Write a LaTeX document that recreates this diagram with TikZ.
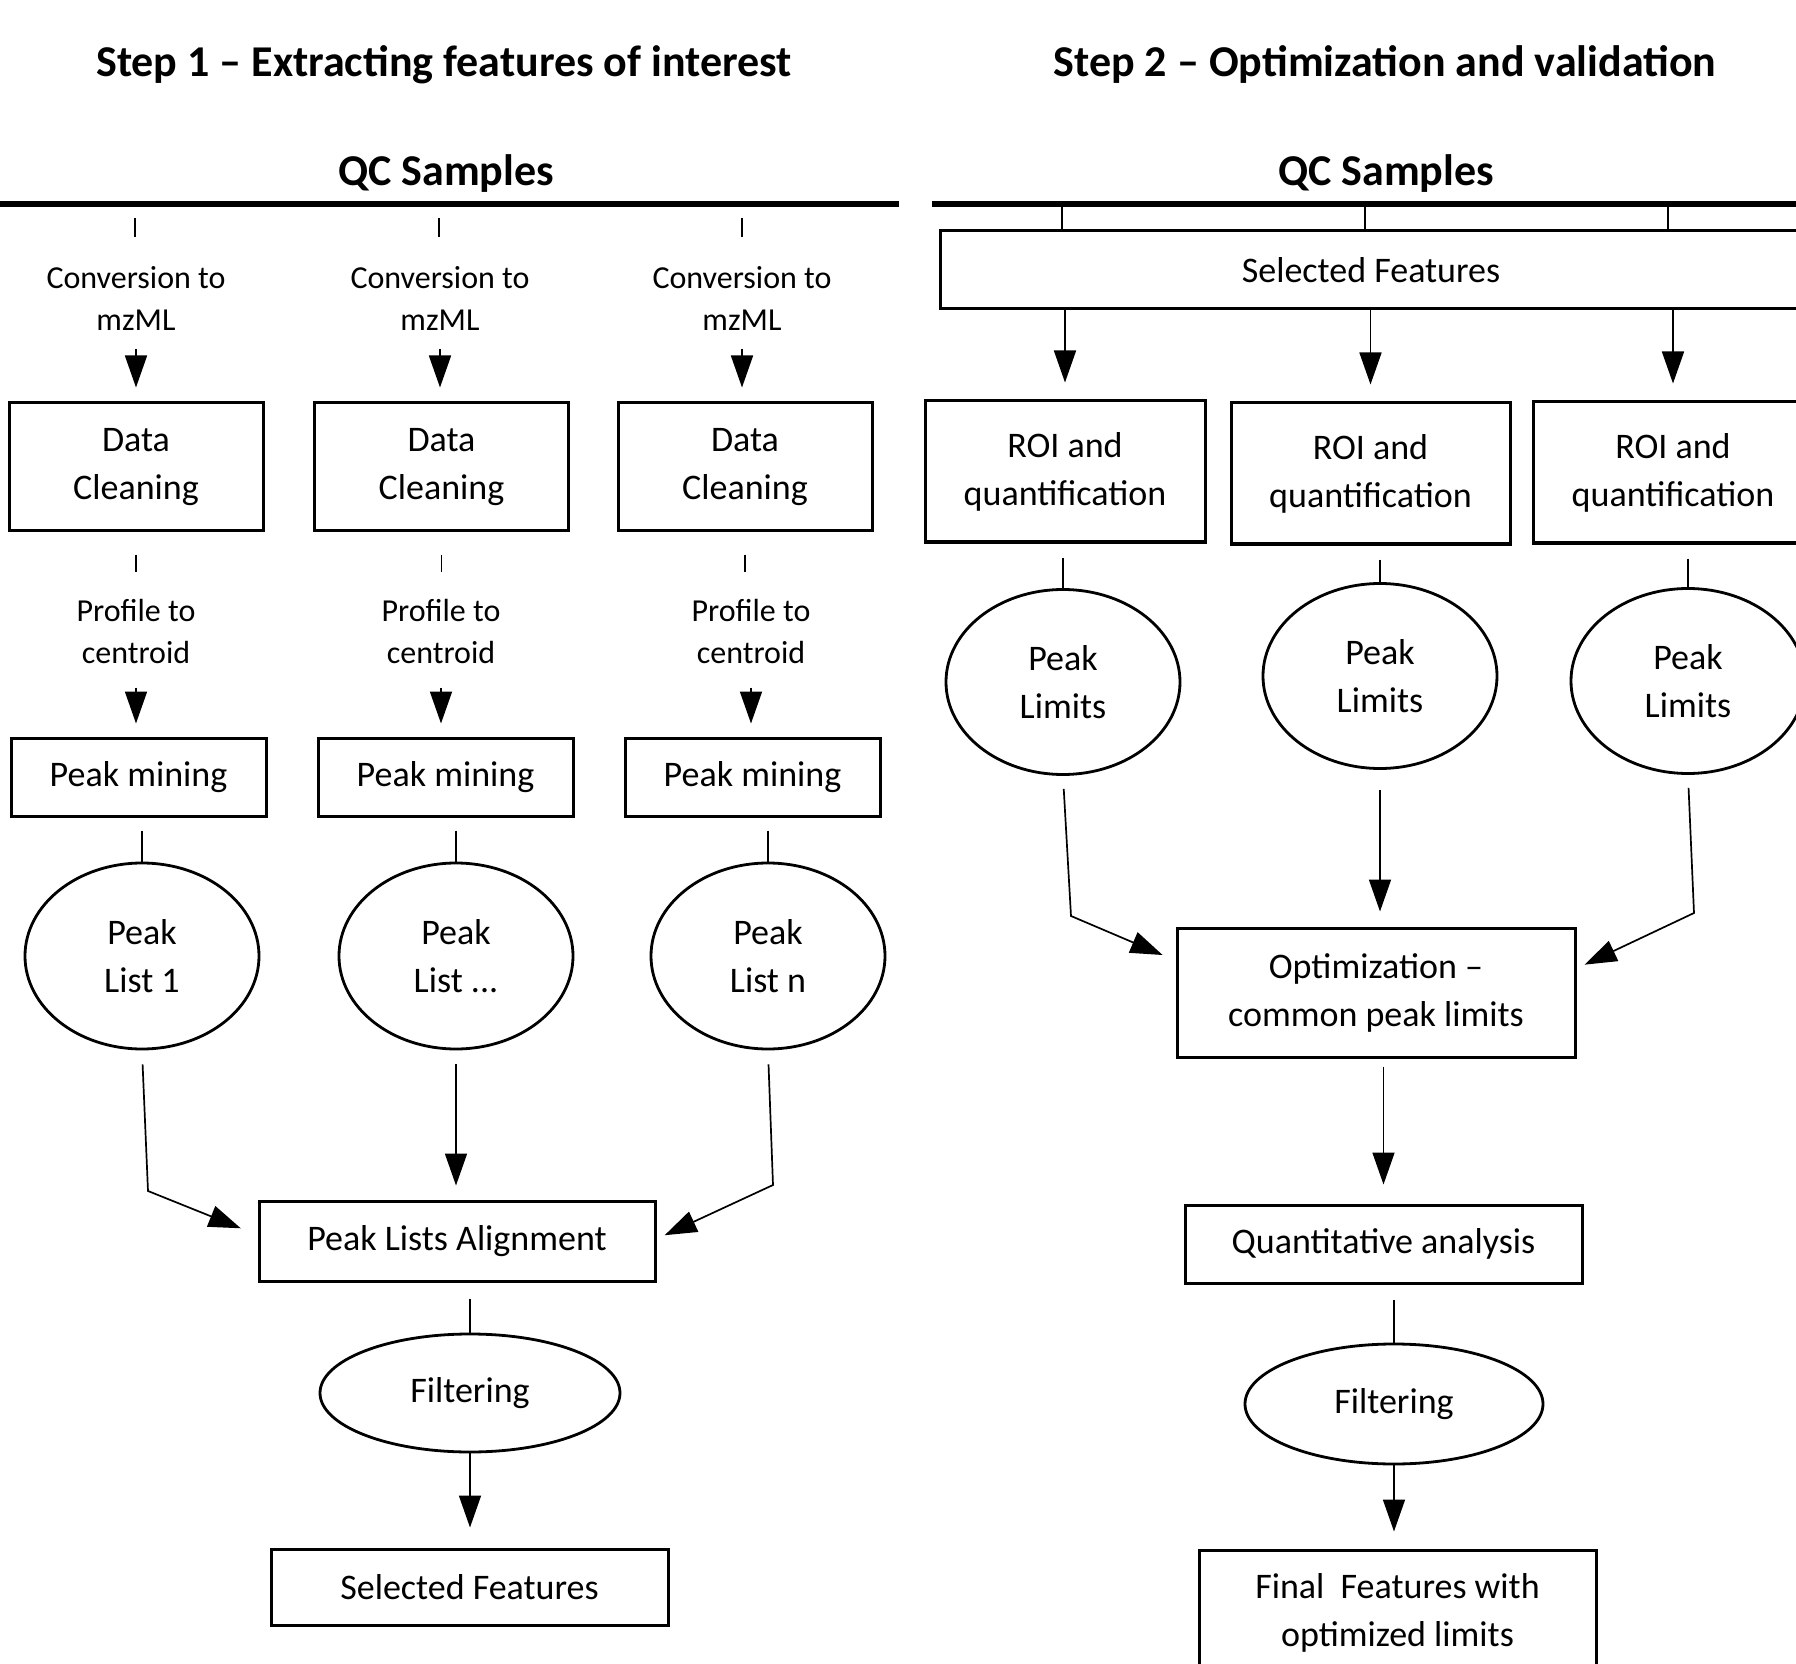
\documentclass[tikz,border=0pt]{standalone}
\usepackage{fontspec}
\setmainfont{Carlito}
\usetikzlibrary{shapes.geometric,arrows.meta}
\begin{document}
\begin{tikzpicture}[x=0.5pt,y=-0.5pt,
  box/.style={draw, line width=1.5pt, inner sep=0pt, align=center, font=\fontsize{18}{24}\selectfont},
  oval/.style={draw, ellipse, line width=1.4pt, inner sep=0pt, align=center, font=\fontsize{18}{24}\selectfont},
  lbl/.style={align=center, inner sep=0pt, font=\fontsize{16}{21}\selectfont},
  ttl/.style={inner sep=0pt, anchor=base, font=\fontsize{22}{26}\selectfont\bfseries},
  ln/.style={line width=0.85pt},
  arr/.style={line width=0.85pt, -{Triangle[length=16pt,width=11pt]}},
  qcline/.style={line width=2.6pt}]
\useasboundingbox (0,0) rectangle (1796,1664);
\fill[white] (0,0) rectangle (1796,1664);
\clip (0,0) rectangle (1796,1664);

% titles
\node[ttl] (t1) at (444,77) {Step 1 -- Extracting features of interest};
\node[ttl] (t2) at (1385,77) {Step 2 -- Optimization and validation};
\node[ttl] (qc1) at (446,186) {QC Samples};
\node[ttl] (qc2) at (1386,186) {QC Samples};

% QC lines
\coordinate (la) at (0,204);
\coordinate (lb) at (899,204);
\coordinate (ra) at (932,204);
\coordinate (rb) at (1800,204);
\draw[qcline] (la) -- (lb);
\draw[qcline] (ra) -- (rb);

% ---------------- Step 1 ----------------
\foreach \i/\xt/\xc/\xd/\xp/\xm/\xl in {1/135/136/136/136/138.5/142, 2/439/440/441.5/441/445.5/456, 3/742/742/745/751/752.5/768}{
  \coordinate (tk\i) at (\xt,204);
  \node[lbl] (conv\i) at (\xc,298) {Conversion to\\mzML};
  \node[box, minimum width=127pt, minimum height=64pt] (dc\i) at (\xd,467) {Data\\Cleaning};
  \node[lbl] (prof\i) at (\xp,632) {Profile to\\centroid};
  \node[box, minimum width=127.5pt, minimum height=39pt] (pm\i) at (\xm,777) {Peak mining};
}
\node[oval, minimum width=117pt, minimum height=93pt] (pl1) at (142,956) {Peak\\List 1};
\node[oval, minimum width=117pt, minimum height=93pt] (pl2) at (456,956) {Peak\\List ...};
\node[oval, minimum width=117pt, minimum height=93pt] (pl3) at (768,956) {Peak\\List n};

\node[box, minimum width=198pt, minimum height=40pt] (al) at (457,1241) {Peak Lists Alignment};
\node[oval, minimum width=150pt, minimum height=59pt] (f1) at (470,1393) {Filtering};
\node[box, minimum width=198.5pt, minimum height=38pt] (sf1) at (469.5,1587) {Selected Features};

\foreach \i in {1,2,3}{
  \draw[ln, shorten <=7pt, shorten >=14.5pt] (tk\i) -- (tk\i |- conv\i.north);
  \draw[arr, shorten <=9.5pt, shorten >=7pt] (conv\i.south) -- (conv\i.south |- dc\i.north);
  \draw[ln, shorten <=11pt, shorten >=13.5pt] (dc\i.south) -- (dc\i.south |- prof\i.north);
  \draw[arr, shorten <=11.5pt, shorten >=6.5pt] (prof\i.south) -- (prof\i.south |- pm\i.north);
  \draw[ln, shorten <=6.5pt] (pl\i.north |- pm\i.south) -- (pl\i.north);
}
\coordinate (bl1) at (148,1191);
\coordinate (bl3) at (773,1185);
\draw[arr, shorten <=7pt, shorten >=9pt] (pl1.south) -- (bl1) -- ([yshift=3pt]al.west);
\draw[arr, shorten <=7pt, shorten >=7pt] (pl2.south) -- (pl2.south |- al.north);
\draw[arr, shorten <=7pt, shorten >=4.5pt] (pl3.south) -- (bl3) -- ([yshift=1pt]al.east);
\draw[ln, shorten <=8pt] (f1.north |- al.south) -- (f1.north);
\draw[arr, shorten >=10pt] (f1.south) -- (f1.south |- sf1.north);

% ---------------- Step 2 ----------------
\node[box, minimum width=431pt, minimum height=39pt] (sfR) at (1371,270) {Selected Features};
\node[box, minimum width=140pt, minimum height=70.5pt] (roi1) at (1065,471.5) {ROI and\\quantification};
\node[box, minimum width=139.5pt, minimum height=70.5pt] (roi2) at (1370.5,473.5) {ROI and\\quantification};
\node[box, minimum width=140pt, minimum height=70.5pt] (roi3) at (1673,472.5) {ROI and\\quantification};
\node[oval, minimum width=117pt, minimum height=92.5pt] (pk1) at (1063,682) {Peak\\Limits};
\node[oval, minimum width=117pt, minimum height=92.5pt] (pk2) at (1380,676) {Peak\\Limits};
\node[oval, minimum width=117pt, minimum height=92.5pt] (pk3) at (1688,681) {Peak\\Limits};
\node[box, minimum width=199pt, minimum height=64.5pt] (opt) at (1376,992.5) {Optimization --\\common peak limits};
\node[box, minimum width=198.5pt, minimum height=39pt] (qa) at (1383.5,1244) {Quantitative analysis};
\node[oval, minimum width=149pt, minimum height=60pt] (f2) at (1394,1404) {Filtering};
\node[box, minimum width=198.5pt, minimum height=63pt] (fin) at (1397.5,1613) {Final\ \ Features with\\optimized limits};

\coordinate (rt1) at (1062,204);
\coordinate (rt2) at (1365,204);
\coordinate (rt3) at (1668,204);
\foreach \i in {1,2,3}{
  \draw[ln] (rt\i) -- (rt\i |- sfR.north);
  \draw[arr, shorten >=8.5pt] (roi\i.north |- sfR.south) -- (roi\i.north);
  \draw[ln, shorten <=7pt] (pk\i.north |- roi\i.south) -- (pk\i.north);
}
\coordinate (br1) at (1071,916);
\coordinate (br3) at (1694,913);
\draw[arr, shorten <=6.5pt, shorten >=7pt] (pk1.south) -- (br1) -- ([yshift=16pt]opt.west);
\draw[arr, shorten <=10pt, shorten >=7.5pt] (pk2.south) -- (pk2.south |- opt.north);
\draw[arr, shorten <=6.5pt, shorten >=4.5pt] (pk3.south) -- (br3) -- ([yshift=12pt]opt.east);
\draw[arr, shorten <=4pt, shorten >=9.5pt] (qa.north |- opt.south) -- (qa.north);
\draw[ln, shorten <=7.5pt] (f2.north |- qa.south) -- (f2.north);
\draw[arr, shorten >=8.5pt] (f2.south) -- (f2.south |- fin.north);
\end{tikzpicture}
\end{document}
